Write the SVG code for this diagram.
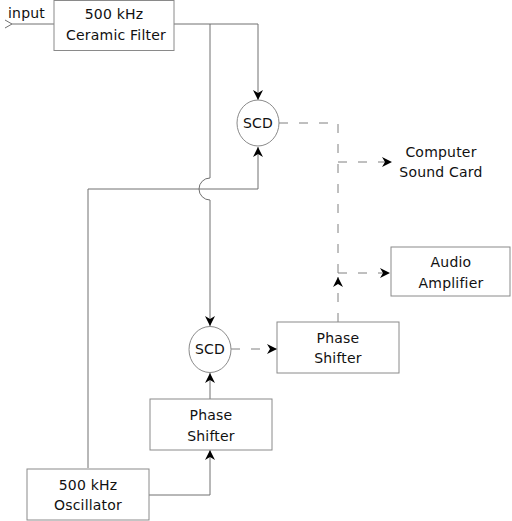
<svg xmlns="http://www.w3.org/2000/svg" width="512" height="521" viewBox="0 0 512 521">
<defs>
<style>
.box{fill:#fff;stroke:#8a8a8a;stroke-width:1}
.circ{fill:#fff;stroke:#8a8a8a;stroke-width:1}
.ln{fill:none;stroke:#707070;stroke-width:1}
.dash{fill:none;stroke:#808080;stroke-width:1;stroke-dasharray:9 11}
text{font-family:"DejaVu Sans",sans-serif;font-size:14px;fill:#111;text-anchor:middle;letter-spacing:0.2px}
</style>
<marker id="ah" viewBox="0 0 10 10" refX="10" refY="5" markerWidth="10" markerHeight="10" markerUnits="userSpaceOnUse" orient="auto">
<path d="M0,0 L10,5 L0,10 L3,5 z" fill="#000"/>
</marker>
</defs>
<rect width="512" height="521" fill="#fff"/>
<g id="connectors">
<polyline class="ln" points="5,20 12,24 5,28"/>
<line class="ln" x1="12" y1="24" x2="54" y2="24"/>
<path class="ln" d="M174,24 H258 V100" marker-end="url(#ah)"/>
<path class="ln" d="M210,24 V178 A11,11 0 0 0 210,200 V326" marker-end="url(#ah)"/>
<path class="ln" d="M88,468 V189 H258 V147" marker-end="url(#ah)"/>
<path class="dash" d="M279,123 H338 V273"/>
<path class="dash" d="M338,322 V277" marker-end="url(#ah)"/>
<path class="dash" d="M338,162 H392" marker-end="url(#ah)"/>
<path class="dash" d="M338,273 H390" marker-end="url(#ah)"/>
<path class="dash" d="M231,349 H277" marker-end="url(#ah)"/>
<path class="ln" d="M210,399 V373" marker-end="url(#ah)"/>
<path class="ln" d="M149,495 H210 V450" marker-end="url(#ah)"/>
</g>
<g id="input-label"><text x="8" y="18" style="text-anchor:start">input</text></g>
<g id="ceramic-filter">
<rect class="box" x="54" y="0.5" width="120" height="50"/>
<text x="114" y="19">500 kHz</text>
<text x="116" y="40">Ceramic Filter</text>
</g>
<g id="scd-top">
<ellipse class="circ" cx="258" cy="123" rx="21" ry="23"/>
<text x="258" y="128">SCD</text>
</g>
<g id="sound-card">
<text x="441" y="157">Computer</text>
<text x="441" y="177">Sound Card</text>
</g>
<g id="audio-amp">
<rect class="box" x="391" y="247" width="119" height="49"/>
<text x="451" y="267">Audio</text>
<text x="451" y="288">Amplifier</text>
</g>
<g id="scd-bottom">
<ellipse class="circ" cx="210" cy="349.5" rx="21" ry="23"/>
<text x="210" y="354">SCD</text>
</g>
<g id="phase-shifter-upper">
<rect class="box" x="277" y="322" width="122" height="51"/>
<text x="338" y="343">Phase</text>
<text x="338" y="363">Shifter</text>
</g>
<g id="phase-shifter-lower">
<rect class="box" x="150" y="399" width="122" height="51"/>
<text x="211" y="420">Phase</text>
<text x="211" y="441">Shifter</text>
</g>
<g id="oscillator">
<rect class="box" x="27" y="469" width="122" height="51"/>
<text x="88" y="490">500 kHz</text>
<text x="88" y="510">Oscillator</text>
</g>
</svg>
